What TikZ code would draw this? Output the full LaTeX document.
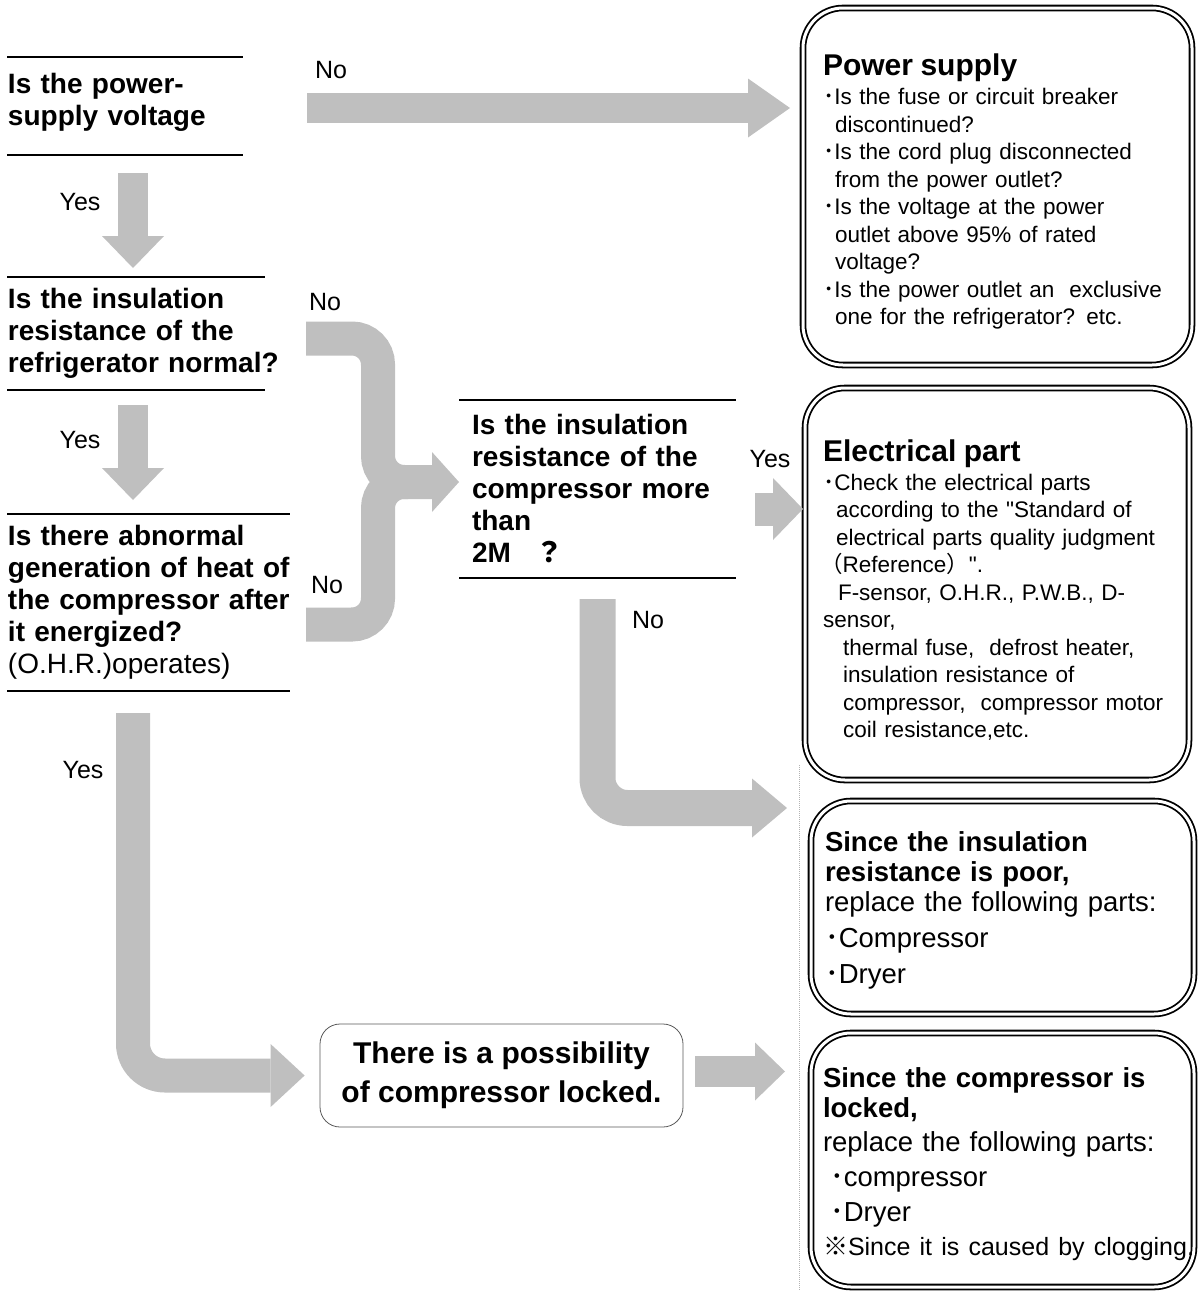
\documentclass[tikz,border=0pt]{standalone}
\usepackage{fontspec}
\setmainfont{Liberation Sans}[Ligatures=TeXOff]
\newfontfamily\cjk{Noto Sans CJK JP}
\usetikzlibrary{arrows.meta, positioning, calc}
\definecolor{bandgray}{RGB}{191,191,191}
\newcommand{\dotmark}{{\cjk ･}}
\tikzset{
  qline/.style={draw=black, line width=1.6pt},
  question/.style={text width=#1, align=left, inner xsep=1pt, inner ysep=0pt, outer sep=0pt,
    font=\fontsize{28}{32}\selectfont\bfseries,
    append after command={(\tikzlastnode.north west) edge[qline] (\tikzlastnode.north east)
      (\tikzlastnode.south west) edge[qline] (\tikzlastnode.south east)}},
  result/.style={draw, double, line width=1.8pt, double distance=3pt, rounded corners=40pt,
    align=left, inner sep=0pt, outer sep=0pt},
  band/.style={draw=bandgray, line width=32pt, -{Triangle[length=32pt,width=62pt,line width=0pt]}},
  tag/.style={font=\fontsize{25}{30}\selectfont}
}

\begin{document}
\begin{tikzpicture}[x=1pt, y=-1pt]
\useasboundingbox (0,0) rectangle (1198,1291);

% Questions on the left
\node[question=234pt, minimum height=98pt, anchor=north west] (q1) at (7,57)
  {Is the power-\\supply voltage\rule[-14pt]{0pt}{1pt}};
\node[question=256pt, minimum height=113pt, below=122pt of q1.south west, anchor=north west] (q2)
  {Is the insulation\\resistance of the\\\mbox{refrigerator normal?}};
\node[question=281pt, minimum height=177pt, below=124pt of q2.south west, anchor=north west] (q3)
  {Is there abnormal\\\mbox{generation of heat of}\\\mbox{the compressor after}\\it energized?\\\mdseries(O.H.R.)operates)};
\node[question=251pt, inner xsep=13pt, minimum height=178pt, anchor=north west] (q4) at (459,400)
  {Is the insulation\\resistance of the\\compressor more\\than\\2M\hspace{25pt}{\cjk ？}};

% Result boxes
\node[result, minimum width=389pt, minimum height=357pt, text width=349pt,
  font=\fontsize{22.5}{27.5}\selectfont] (power) at (997.5,186.5) {%
  \rule{0pt}{32pt}{\fontsize{30}{32}\selectfont\bfseries Power supply}\\[2pt]
  \dotmark Is the fuse or circuit breaker\\
  \hspace*{12pt}discontinued?\\
  \dotmark Is the cord plug disconnected\\
  \hspace*{12pt}from the power outlet?\\
  \dotmark Is the voltage at the power\\
  \hspace*{12pt}outlet above 95\% of rated\\
  \hspace*{12pt}voltage?\\
  \dotmark Is the power outlet an\ \ exclusive\\
  \hspace*{12pt}one for the refrigerator? etc.};
\node[result, minimum width=384pt, minimum height=392pt, text width=348pt,
  font=\fontsize{22.5}{27.5}\selectfont] (elec) at (997,584) {%
  \rule{0pt}{34pt}{\fontsize{30}{32}\selectfont\bfseries Electrical part}\\[1pt]
  \dotmark Check the electrical parts\\
  \hspace*{13pt}according to the "Standard of\\
  \hspace*{13pt}electrical parts quality judgment\\
  \hspace*{-3pt}{\cjk （}Reference{\cjk ）}".\\
  \hspace*{15pt}F-sensor, O.H.R., P.W.B., D-\\
  sensor,\\
  \hspace*{20pt}thermal fuse,\ \ defrost heater,\\
  \hspace*{20pt}insulation resistance of\\
  \hspace*{20pt}compressor,\ \ compressor motor\\
  \hspace*{20pt}coil resistance,etc.};
\node[result, minimum width=383pt, minimum height=213pt, text width=355pt,
  font=\fontsize{27.5}{30}\selectfont] (insul) at (1002.5,907.5) {%
  \rule{0pt}{26pt}\textbf{Since the insulation}\\
  \textbf{resistance is poor,}\\
  replace the following parts:\\[6pt]
  \dotmark Compressor\\[6pt]
  \dotmark Dryer};
\node[result, minimum width=383pt, minimum height=254pt, text width=359pt,
  font=\fontsize{27.5}{30}\selectfont] (lock) at (1002.5,1160) {%
  \rule{0pt}{28pt}\textbf{Since the compressor is}\\
  \textbf{locked,}\\[4pt]
  replace the following parts:\\[5pt]
  \hspace*{7pt}\dotmark compressor\\[5pt]
  \hspace*{7pt}\dotmark Dryer\\[4pt]
  \mbox{\fontsize{25}{30}\selectfont{\cjk ※}Since it is caused by clogging.}};
\node[draw=gray!70!black, line width=0.8pt, rounded corners=20pt, minimum width=363pt,
  minimum height=103pt, align=center, font=\fontsize{30}{39}\selectfont\bfseries] (possib)
  at (501.5,1075.5) {There is a possibility\\of compressor locked.};

% Helper points
\coordinate (yescol) at (133,0);
\coordinate (merge) at (378,482);

% Band arrows
\draw[band, line width=30pt, -{Triangle[length=42pt,width=59pt,line width=0pt]}]
  ($(q1.east)+(64,2)$) -- ($(q1.east -| power.west)+(-13,2)$);
\draw[band, line width=30pt] ($(q1.south -| yescol)+(0,18)$) -- ($(q2.north -| yescol)+(0,-9)$);
\draw[band, line width=30pt] ($(q2.south -| yescol)+(0,15)$) -- ($(q3.north -| yescol)+(0,-14)$);
\draw[band, line width=34pt, rounded corners=32pt, -{Triangle[length=34pt,width=63pt,line width=0pt]}]
  ($(q3.south -| yescol)+(0,22)$) |- ($(possib.west)+(-15,0)$);
\draw[band, line width=31pt, -{Triangle[length=30pt,width=58pt,line width=0pt]}]
  ($(possib.east)+(12,-4)$) -- ($(possib.east -| lock.west)+(-26,-4)$);

% Brace into the compressor question
\draw[band, line width=34pt, rounded corners=26pt, arrows=-]
  ($(q3.east)+(16,22)$) -| (merge) -- ++(30,0);
\draw[band, line width=34pt, rounded corners=26pt, -{Triangle[length=27pt,width=60pt,line width=0pt]}]
  ($(q2.east)+(41,5)$) -| (merge) -- ($(q4.west)+(0,-7)$);

\draw[band, line width=33pt, -{Triangle[length=30pt,width=62pt,line width=0pt]}]
  ($(q4.east)+(19,20)$) -- ($(q4.east -| elec.west)+(-2,20)$);
\draw[band, line width=36pt, rounded corners=30pt, -{Triangle[length=35pt,width=59pt,line width=0pt]}]
  ($(q4.south)+(0,21)$) |- ($(insul.north west)+(-24,7)$);

% Yes / No tags
\node[tag] (no1) at (331,70) {No};
\node[tag] (yes1) at (80,202) {Yes};
\node[tag] (no2) at (325,302) {No};
\node[tag] (yes2) at (80,440) {Yes};
\node[tag] (no3) at (327,585) {No};
\node[tag] (yes3) at (770,459) {Yes};
\node[tag] (no4) at (648,620) {No};
\node[tag] (yes4) at (83,770) {Yes};

% Dotted guide
\draw[densely dotted, gray!60, line width=1pt] (799,765) -- (799,1291);

\end{tikzpicture}
\end{document}
